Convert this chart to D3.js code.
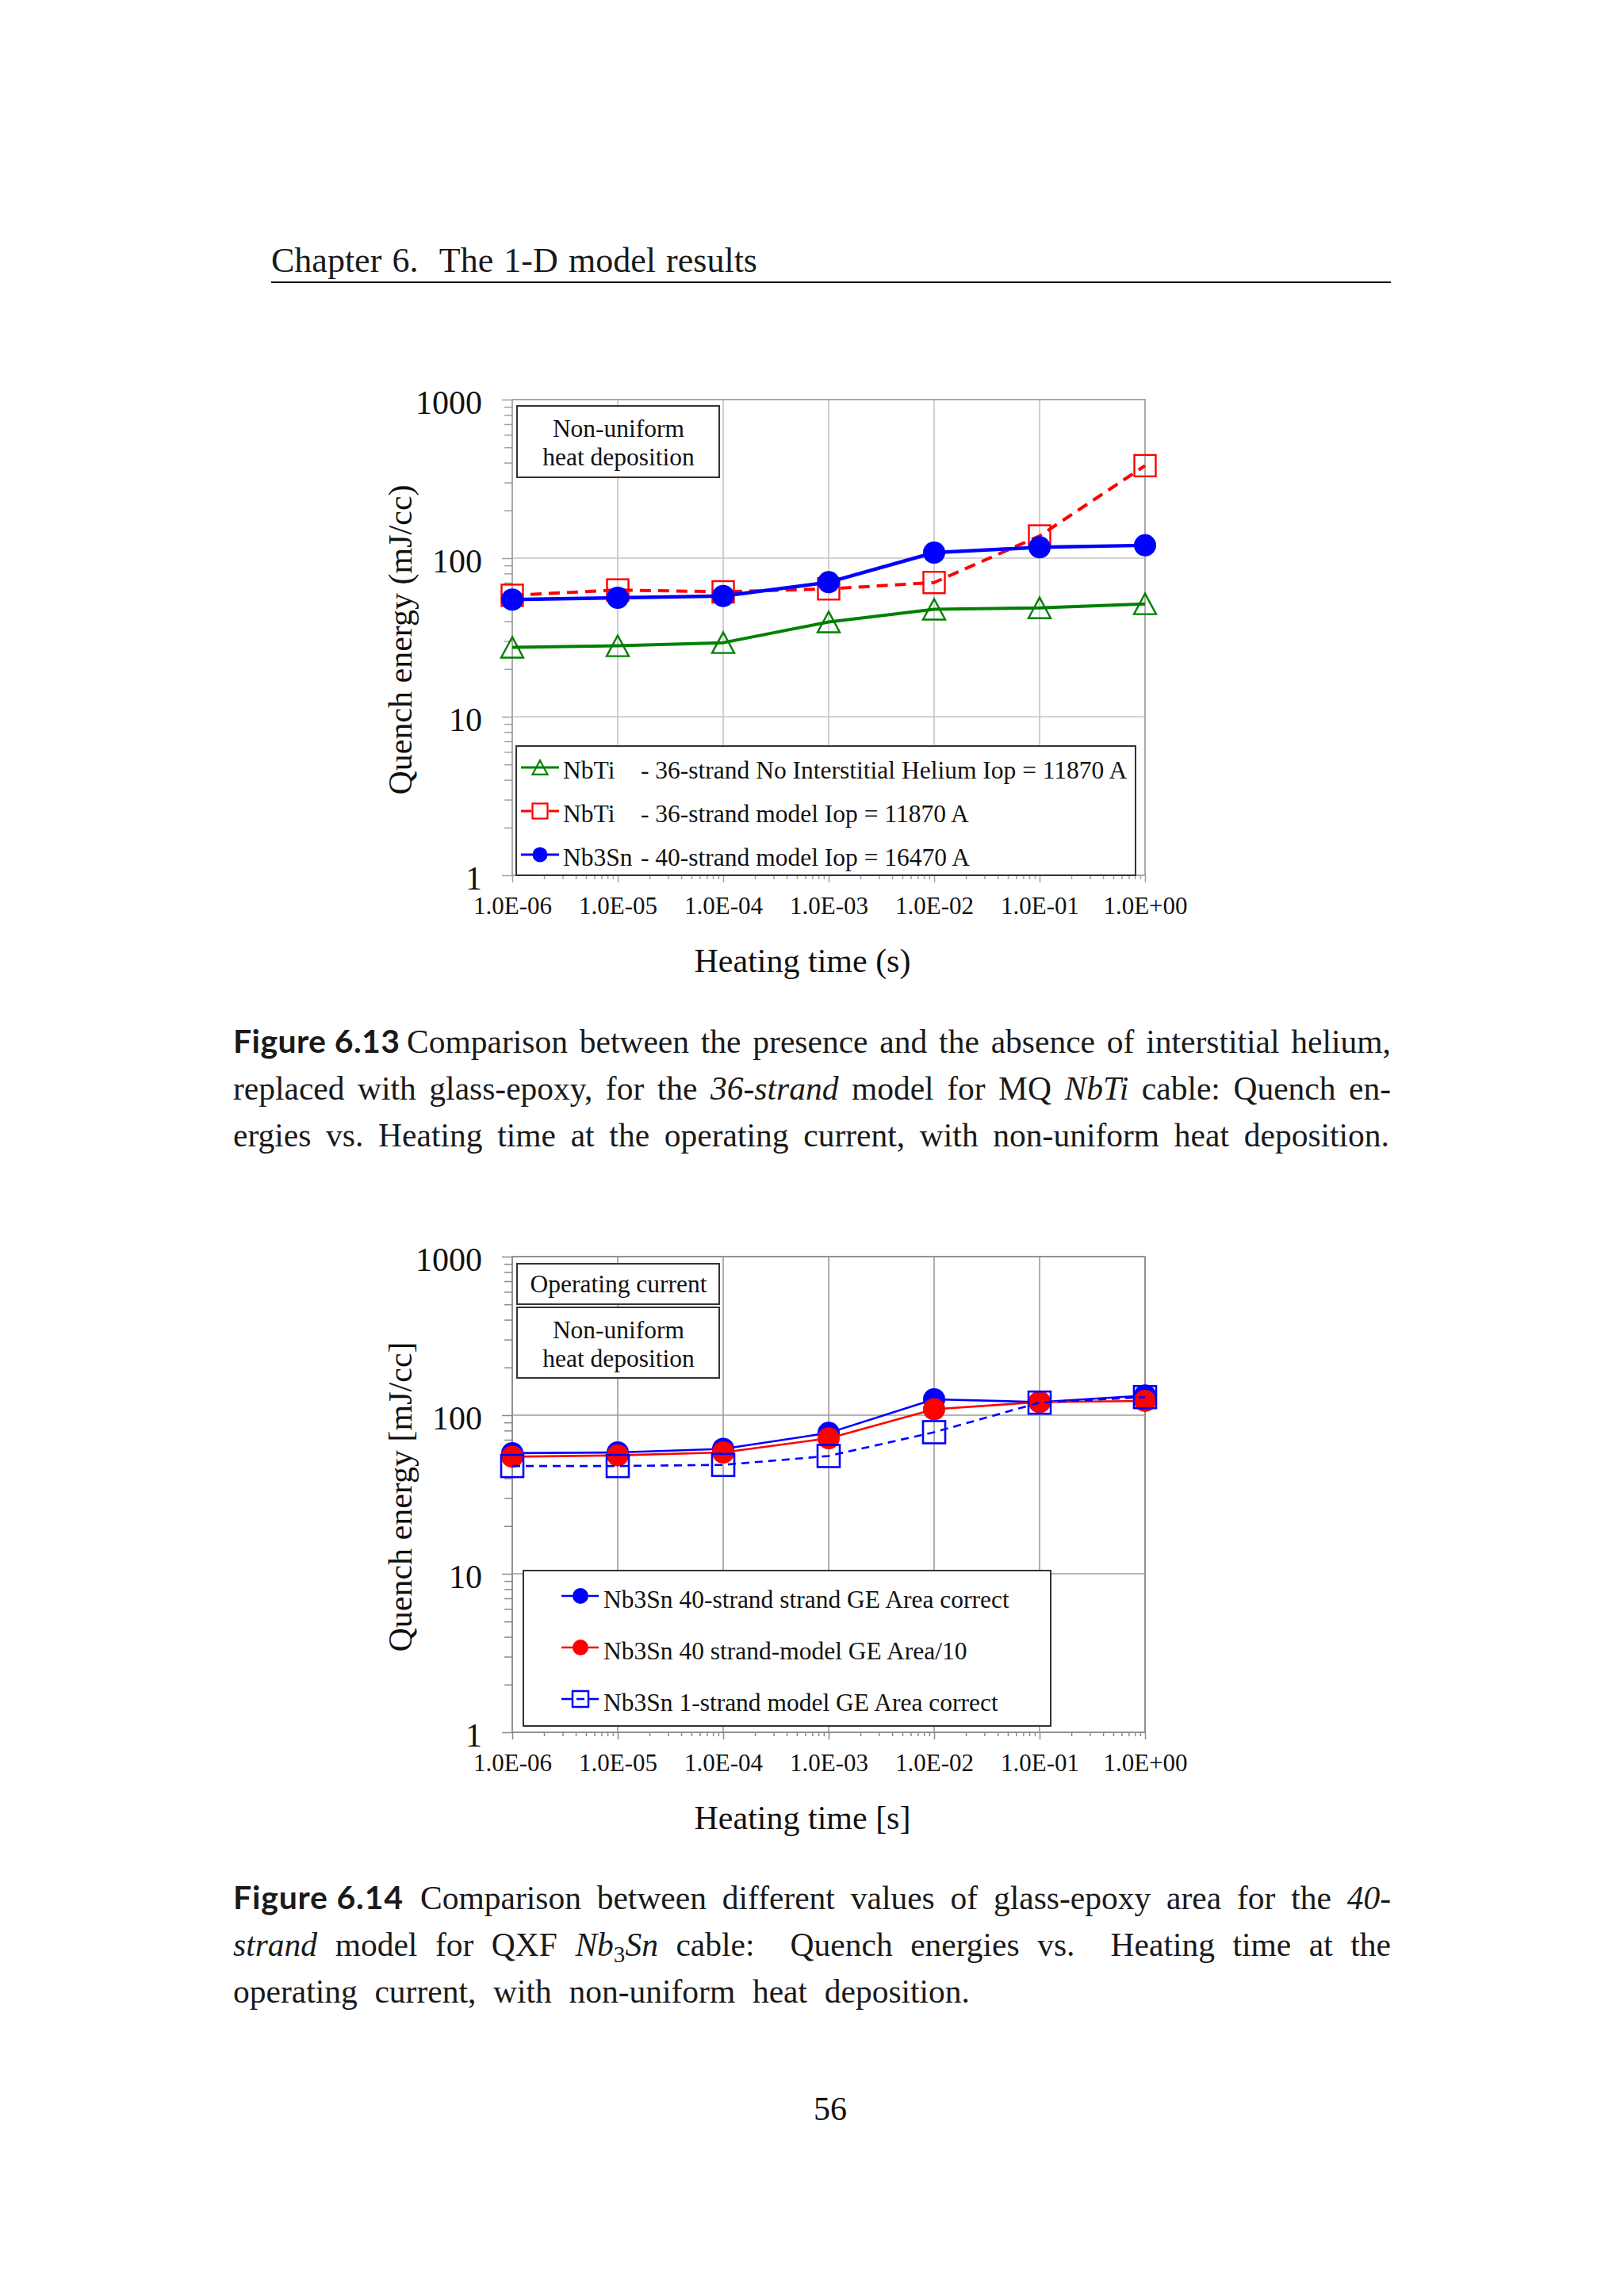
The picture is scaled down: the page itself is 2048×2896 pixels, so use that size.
<!DOCTYPE html>
<html><head><meta charset="utf-8">
<script src="https://cdn.jsdelivr.net/npm/d3@7"></script>
<style>body{margin:0;background:#fff}</style>
</head><body>
<script>
// ---------- data ----------
const heatingTimes = [1e-6, 1e-5, 1e-4, 1e-3, 1e-2, 1e-1, 1];
const xTickLabels = ["1.0E-06","1.0E-05","1.0E-04","1.0E-03","1.0E-02","1.0E-01","1.0E+00"];
const yTickValues = [1, 10, 100, 1000];
const yTickLabels = ["1","10","100","1000"];

// Figure 6.13
const nbtiNoHelium = [27.4, 28.0, 29.3, 39.6, 47.6, 48.6, 51.5];
const nbtiModel    = [58.3, 63.0, 61.3, 64.0, 70.2, 138, 383];
const nb3sn40Model = [54.8, 56.2, 57.7, 70.5, 108.4, 117, 120.4];
const legend613Names = ["NbTi", "NbTi", "Nb3Sn"];
const legend613Desc  = ["- 36-strand No Interstitial Helium Iop = 11870 A",
                        "- 36-strand model Iop = 11870 A",
                        "- 40-strand model Iop = 16470 A"];

// Figure 6.14
const geCorrect40 = [57.6, 58.2, 61.3, 77.3, 126, 121, 133];
const geTenth40   = [54.7, 55.8, 58.2, 71.5, 109, 121, 123];
const geCorrect1  = [47.8, 47.8, 48.6, 55.3, 78.1, 120, 130];
const legend614Labels = ["Nb3Sn 40-strand strand GE Area correct",
                         "Nb3Sn 40 strand-model GE Area/10",
                         "Nb3Sn 1-strand model GE Area correct"];

// ---------- page ----------
const W = 2048, H = 2896;
const serif = "'Liberation Serif', serif";
const svg = d3.select("body").append("svg").attr("width", W).attr("height", H)
  .style("background", "#fff");
svg.append("rect").attr("width", W).attr("height", H).attr("fill", "#fff");

// justified line: word-spacing adjusted so the line spans `length` px
function textLine(x, y, parts, size, length, opts) {
  opts = opts || {};
  const t = svg.append("text").attr("x", x).attr("y", y)
    .attr("font-size", size).attr("font-family", opts.family || serif)
    .attr("fill", "#1a1a1a");
  if (opts.weight) t.attr("font-weight", opts.weight);
  if (parts.length === 1 && !parts[0].i) {
    t.text(parts[0].t);
  } else {
    parts.forEach(p => {
      const ts = t.append("tspan").text(p.t);
      if (p.i) ts.attr("font-style", "italic");
      if (p.sub) ts.attr("font-size", size * 0.7).attr("dy", 8);
      if (p.back) ts.attr("dy", -8);
    });
  }
  if (length) {
    const nat = t.node().getComputedTextLength();
    const txt = parts.map(p => p.t).join("");
    const spaces = (txt.match(/[ \u00A0]/g) || []).length;
    if (spaces > 0 && !opts.fit) t.attr("word-spacing", (length - nat) / spaces);
    else t.attr("textLength", length).attr("lengthAdjust", "spacing");
  }
  return t;
}

// header
textLine(342, 343, [{t: "Chapter 6. \u00A0The 1-D model results"}], 44, 613);
svg.append("line").attr("x1", 342).attr("x2", 1754).attr("y1", 356).attr("y2", 356)
  .attr("stroke", "#111").attr("stroke-width", 1.8);

// captions
const sansBold = {family: "Lato, 'Open Sans', sans-serif", weight: 700, fit: true};
const CS = 41.5;
textLine(294, 1328, [{t: "Figure 6.13"}], 41, 210, sansBold);
textLine(513, 1328, [{t: "Comparison between the presence and the absence of interstitial helium,"}], CS, 1241);
textLine(294, 1387, [{t: "replaced with glass-epoxy, for the "}, {t: "36-strand", i: true},
  {t: " model for MQ "}, {t: "NbTi", i: true}, {t: " cable: Quench en-"}], CS, 1460);
textLine(294, 1446, [{t: "ergies vs. Heating time at the operating current, with non-uniform heat deposition."}], CS, 1458);

textLine(294, 2408, [{t: "Figure 6.14"}], 41, 214, sansBold);
textLine(530, 2408, [{t: "Comparison between different values of glass-epoxy area for the "},
  {t: "40", i: true}, {t: "-"}], CS, 1224);
textLine(294, 2467, [{t: "strand", i: true}, {t: " model for QXF "}, {t: "Nb", i: true},
  {t: "3", sub: true}, {t: "Sn", i: true, back: true}, {t: " cable: \u00A0Quench energies vs. \u00A0Heating time at the"}], CS, 1460);
textLine(294, 2526, [{t: "operating current, with non-uniform heat deposition."}], CS, 929);

svg.append("text").attr("x", 1047).attr("y", 2674).attr("text-anchor", "middle")
  .attr("font-size", 42).attr("font-family", serif).attr("fill", "#111").text("56");

// ---------- charts ----------
const xMinor = [], yMinor = [];
for (let d = -6; d < 0; d++) for (let k = 2; k <= 9; k++) xMinor.push(k * Math.pow(10, d));
for (let d = 0; d < 3; d++) for (let k = 2; k <= 9; k++) yMinor.push(k * Math.pow(10, d));

function marker(g, type, cx, cy, color, size, sw) {
  if (type === "circle") {
    g.append("circle").attr("cx", cx).attr("cy", cy).attr("r", size / 2).attr("fill", color);
  } else if (type === "square") {
    g.append("rect").attr("x", cx - size / 2).attr("y", cy - size / 2)
      .attr("width", size).attr("height", size)
      .attr("fill", "none").attr("stroke", color).attr("stroke-width", sw);
  } else if (type === "triangle") {
    const h = size * 0.93, w = size / 2;
    g.append("path").attr("d", `M${cx},${cy - h / 2}L${cx + w},${cy + h / 2}L${cx - w},${cy + h / 2}Z`)
      .attr("fill", "none").attr("stroke", color).attr("stroke-width", sw).attr("stroke-linejoin", "miter");
  }
}

function drawChart(cfg) {
  const top = cfg.top, bottom = top + 600, left = 646, right = 1444;
  const x = d3.scaleLog().domain([1e-6, 1]).range([left, right]);
  const y = d3.scaleLog().domain([1, 1000]).range([bottom, top]);
  const g = svg.append("g");

  // grid
  g.append("g").selectAll("line").data(heatingTimes).join("line")
    .attr("x1", d => x(d)).attr("x2", d => x(d)).attr("y1", top).attr("y2", bottom)
    .attr("stroke", cfg.grid).attr("stroke-width", 1.6);
  g.append("g").selectAll("line").data(yTickValues).join("line")
    .attr("x1", left).attr("x2", right).attr("y1", d => y(d)).attr("y2", d => y(d))
    .attr("stroke", cfg.grid).attr("stroke-width", 1.6);
  g.append("rect").attr("x", left).attr("y", top).attr("width", right - left).attr("height", bottom - top)
    .attr("fill", "none").attr("stroke", cfg.border).attr("stroke-width", 1.6);

  // axes (ticks)
  const styleAxis = sel => {
    sel.select(".domain").remove();
    sel.selectAll(".tick line").attr("stroke", cfg.border).attr("stroke-width", 1.5);
  };
  g.append("g").attr("transform", `translate(0,${bottom})`)
    .call(d3.axisBottom(x).tickValues(xMinor).tickSize(5).tickFormat("")).call(styleAxis);
  const xa = g.append("g").attr("transform", `translate(0,${bottom})`)
    .call(d3.axisBottom(x).tickValues(heatingTimes).tickSize(9).tickPadding(18)
      .tickFormat((d, i) => xTickLabels[i])).call(styleAxis);
  xa.selectAll("text").attr("font-size", 31).attr("font-family", serif).attr("fill", "#111");

  g.append("g").attr("transform", `translate(${left},0)`)
    .call(d3.axisLeft(y).tickValues(yMinor).tickSize(10).tickFormat("")).call(styleAxis);
  const ya = g.append("g").attr("transform", `translate(${left},0)`)
    .call(d3.axisLeft(y).tickValues(yTickValues).tickSize(13).tickPadding(25)
      .tickFormat((d, i) => yTickLabels[i])).call(styleAxis);
  ya.selectAll("text").attr("font-size", 42).attr("font-family", serif).attr("fill", "#111").attr("dy", "0.42em");

  // axis titles
  g.append("text").attr("x", 1012).attr("y", cfg.top + 722).attr("text-anchor", "middle")
    .attr("font-size", 42).attr("font-family", serif).attr("fill", "#111").text(cfg.xTitle);
  g.append("text").attr("transform", `translate(519,${cfg.top + 303}) rotate(-90)`)
    .attr("text-anchor", "middle").attr("font-size", 42).attr("font-family", serif)
    .attr("fill", "#111").text(cfg.yTitle);

  // text boxes
  cfg.boxes.forEach(b => {
    g.append("rect").attr("x", 652).attr("y", top + b.y0).attr("width", 255).attr("height", b.h)
      .attr("fill", "#fff").attr("stroke", "#333").attr("stroke-width", 2);
    b.lines.forEach((ln, i) => {
      g.append("text").attr("x", 780).attr("y", top + b.y0 + b.base[i]).attr("text-anchor", "middle")
        .attr("font-size", 31.5).attr("font-family", serif).attr("fill", "#111").text(ln);
    });
  });

  // series
  cfg.series.forEach(s => {
    const line = d3.line().x((d, i) => x(heatingTimes[i])).y(d => y(d));
    g.append("path").datum(s.values).attr("d", line).attr("fill", "none")
      .attr("stroke", s.color).attr("stroke-width", s.lw)
      .attr("stroke-dasharray", s.dash || null).attr("stroke-linejoin", "round");
    s.values.forEach((v, i) => marker(g, s.marker, x(heatingTimes[i]), y(v), s.color, s.size, s.msw));
  });

  // legend
  const L = cfg.legend;
  g.append("rect").attr("x", L.x0).attr("y", top + L.y0).attr("width", L.w).attr("height", L.h)
    .attr("fill", "#fff").attr("stroke", "#333").attr("stroke-width", 2);
  L.items.forEach((it, i) => {
    const by = top + L.base[i], my = by - L.mOff;
    const s = it.s;
    if (it.split) {
      g.append("line").attr("x1", L.lx0).attr("x2", L.mx - L.msize / 2 - 1).attr("y1", my).attr("y2", my)
        .attr("stroke", s.color).attr("stroke-width", L.lw);
      g.append("line").attr("x1", L.mx + L.msize / 2 + 1).attr("x2", L.lx1).attr("y1", my).attr("y2", my)
        .attr("stroke", s.color).attr("stroke-width", L.lw);
      if (it.inner) g.append("line").attr("x1", L.mx - 5).attr("x2", L.mx + 5).attr("y1", my).attr("y2", my)
        .attr("stroke", s.color).attr("stroke-width", L.lw);
    } else {
      g.append("line").attr("x1", L.lx0).attr("x2", L.lx1).attr("y1", my).attr("y2", my)
        .attr("stroke", s.color).attr("stroke-width", L.lw);
    }
    marker(g, s.marker, L.mx, my, s.color, L.msize, L.msw);
    g.append("text").attr("x", L.tx).attr("y", by).attr("font-size", 31.5).attr("font-family", serif)
      .attr("fill", "#111").text(it.name);
    if (it.desc) g.append("text").attr("x", L.tx2).attr("y", by).attr("font-size", 31.5)
      .attr("font-family", serif).attr("fill", "#111").text(it.desc);
  });
}

const s613 = [
  {values: nbtiNoHelium, color: "#008000", lw: 4, marker: "triangle", size: 28, msw: 2.4},
  {values: nbtiModel, color: "#ff0000", lw: 4, dash: "14,9", marker: "square", size: 27, msw: 2.4},
  {values: nb3sn40Model, color: "#0000ff", lw: 4.5, marker: "circle", size: 28}
];
drawChart({
  top: 504, grid: "#c4c4c4", border: "#a0a0a0",
  xTitle: "Heating time (s)", yTitle: "Quench energy (mJ/cc)",
  boxes: [{y0: 8, h: 90, lines: ["Non-uniform", "heat deposition"], base: [39, 75]}],
  series: s613,
  legend: {x0: 651, y0: 437, w: 781, h: 163, lx0: 657, lx1: 705, mx: 681, tx: 710, tx2: 808,
    base: [478, 533, 588], mOff: 14, msize: 19, msw: 2.2, lw: 3,
    items: [
      {s: s613[0], name: legend613Names[0], desc: legend613Desc[0]},
      {s: s613[1], name: legend613Names[1], desc: legend613Desc[1], split: true},
      {s: s613[2], name: legend613Names[2], desc: legend613Desc[2]}
    ]}
});

const s614 = [
  {values: geCorrect40, color: "#0000ff", lw: 2.6, marker: "circle", size: 28},
  {values: geTenth40, color: "#ff0000", lw: 2.6, marker: "circle", size: 28},
  {values: geCorrect1, color: "#0000ff", lw: 2.6, dash: "10,7", marker: "square", size: 28, msw: 2.6}
];
drawChart({
  top: 1585, grid: "#9c9c9c", border: "#8a8a8a",
  xTitle: "Heating time [s]", yTitle: "Quench energy [mJ/cc]",
  boxes: [{y0: 9, h: 51, lines: ["Operating current"], base: [36]},
          {y0: 64, h: 89, lines: ["Non-uniform", "heat deposition"], base: [39, 75]}],
  series: s614,
  legend: {x0: 660, y0: 396, w: 665, h: 196, lx0: 708, lx1: 755, mx: 732, tx: 761, tx2: 0,
    base: [443, 508, 573], mOff: 15, msize: 20, msw: 2.5, lw: 2.6,
    items: [
      {s: s614[0], name: legend614Labels[0]},
      {s: s614[1], name: legend614Labels[1]},
      {s: s614[2], name: legend614Labels[2], split: true, inner: true}
    ]}
});
</script>
</body></html>
